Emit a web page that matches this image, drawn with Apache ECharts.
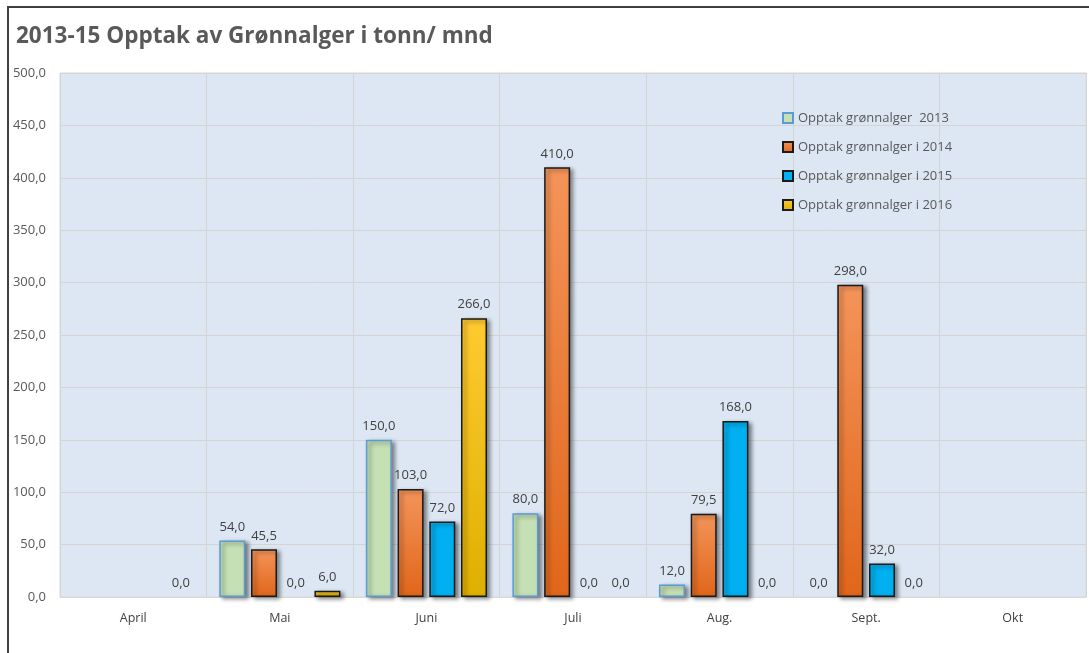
<!DOCTYPE html>
<html><head><meta charset="utf-8">
<script src="https://cdn.jsdelivr.net/npm/echarts@6/dist/echarts.min.js"></script>
<style>html,body{margin:0;padding:0;background:#fff}#c{width:1089px;height:653px}</style>
</head><body><div id="c"></div>
<script>
const categories = ['April','Mai','Juni','Juli','Aug.','Sept.','Okt'];
const s2013 = [null, 54, 150, 80, 12, 0, null];
const s2014 = [null, 45.5, 103, 410, 79.5, 298, null];
const s2015 = [null, 0, 72, 0, 168, 32, null];
const s2016 = [0, 6, 266, 0, 0, 0, null];
const seriesNames = ['Opptak grønnalger  2013','Opptak grønnalger i 2014','Opptak grønnalger i 2015','Opptak grønnalger i 2016'];
const yTicks = {min:0, max:500, interval:50};

const fmt = v => Number(v).toFixed(1).replace('.', ',');
const font = 'Open Sans, Lato, sans-serif';
const shadow = {shadowColor:'rgba(0,0,0,0.45)', shadowBlur:4, shadowOffsetX:3, shadowOffsetY:2};
function grad(top, bottom){
  return new echarts.graphic.LinearGradient(0,0,0,1,[{offset:0,color:top},{offset:1,color:bottom}]);
}
const styles = [
  Object.assign({color:'#c5e0b4', borderColor:'#5b9bd5', borderWidth:1.5}, shadow),
  Object.assign({color:grad('#f4945a','#e0661a'), borderColor:'#1a1a1a', borderWidth:1.5}, shadow),
  Object.assign({color:'#00b0f0', borderColor:'#1a1a1a', borderWidth:1.5}, shadow),
  Object.assign({color:grad('#ffca30','#deb000'), borderColor:'#1a1a1a', borderWidth:1.5}, shadow)
];
const hidden = {color:'rgba(0,0,0,0)', borderWidth:0, shadowColor:'rgba(0,0,0,0)'};
const data = [s2013, s2014, s2015, s2016];
const chart = echarts.init(document.getElementById('c'), null, {renderer:'canvas'});
chart.setOption({
  backgroundColor:'#fff',
  animation:false,
  title:{text:'2013-15 Opptak av Grønnalger i tonn/ mnd', left:11, top:20,
    textStyle:{fontFamily:font, fontSize:22.5, fontWeight:'bold', color:'#595959'}},
  legend:{orient:'vertical', left:777, top:104, itemGap:11, itemWidth:10, itemHeight:10,
    icon:'rect', textStyle:{fontFamily:font, fontSize:13, color:'#595959', lineHeight:18},
    data:seriesNames},
  grid:{left:60, right:3, top:73, bottom:56, show:true, backgroundColor:'#dce7f3', borderColor:'#d9d9d9', borderWidth:1},
  xAxis:{type:'category', data:categories,
    axisLine:{show:true, lineStyle:{color:'#d9d9d9'}}, axisTick:{show:false},
    splitLine:{show:true, lineStyle:{color:'#d4d4d4', width:1}},
    axisLabel:{fontFamily:font, fontSize:12.5, color:'#404040', margin:15}},
  yAxis:{type:'value', min:yTicks.min, max:yTicks.max, interval:yTicks.interval,
    axisLine:{show:false}, axisTick:{show:false},
    splitLine:{lineStyle:{color:'#d4d4d4', width:1}},
    axisLabel:{fontFamily:font, fontSize:13, color:'#595959', margin:14, formatter:v=>fmt(v)}},
  graphic:[
    {type:'line', shape:{x1:8, y1:6, x2:8, y2:653}, style:{stroke:'#404040', lineWidth:2}},
    {type:'line', shape:{x1:8, y1:7, x2:1089, y2:7}, style:{stroke:'#404040', lineWidth:2}}
  ],
  series:data.map((d,i)=>({
    name:seriesNames[i], type:'bar', barWidth:26, barGap:'22%',
    data:d.map(v => v === 0 ? {value:0, itemStyle:hidden} : v),
    itemStyle:styles[i],
    label:{show:true, position:'top', distance:7, fontFamily:font, fontSize:13, color:'#404040',
      formatter:p=>fmt(p.value)}
  }))
});
</script></body></html>
